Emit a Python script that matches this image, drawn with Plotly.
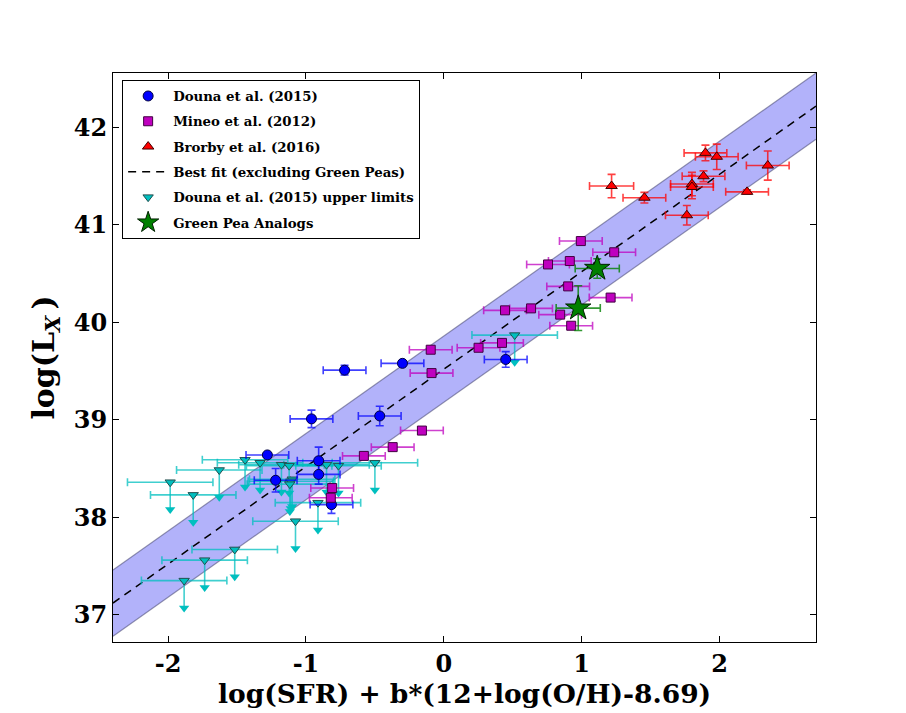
import numpy as np
import plotly.graph_objects as go

# ---------------- data ----------------
# Douna et al. (2015) detections
douna_x = [-0.72, -0.30, -0.96, -0.465, 0.449, -1.28, -0.908, -0.908, -1.22, -0.815]
douna_y = [39.51, 39.58, 39.01, 39.04, 39.62, 38.64, 38.58, 38.44, 38.38, 38.13]
douna_xerr = [0.155, 0.155, 0.155, 0.155, 0.155, 0.155, 0.155, 0.155, 0.155, 0.155]
douna_yerr = [0.05, 0.02, 0.09, 0.10, 0.08, 0.02, 0.14, 0.10, 0.12, 0.09]

# Mineo et al. (2012)
mineo_x = [0.994, 1.236, 0.756, 0.914, 0.902, 1.21, 0.444, 0.633, 0.844, 0.924,
           0.252, 0.422, -0.095, -0.089, -0.159, -0.371, -0.58, -0.81, -0.82]
mineo_y = [40.835, 40.72, 40.595, 40.63, 40.37, 40.255, 40.124, 40.144, 40.08, 39.966,
           39.74, 39.79, 39.72, 39.48, 38.89, 38.72, 38.63, 38.30, 38.20]
mineo_xerr = [0.155] * 19

# Brorby et al. (2016)
brorby_x = [1.217, 1.455, 1.898, 1.98, 1.884, 1.80, 1.80, 1.763, 2.35, 2.20]
brorby_y = [41.40, 41.28, 41.74, 41.70, 41.50, 41.42, 41.39, 41.10, 41.61, 41.34]
brorby_xerr = [0.16, 0.155, 0.155, 0.155, 0.155, 0.155, 0.155, 0.155, 0.155, 0.155]
brorby_yerr = [0.12, 0.055, 0.08, 0.13, 0.055, 0.12, 0.12, 0.10, 0.15, 0.02]

# Douna et al. (2015) upper limits
ul_x = [-1.985, -1.818, -1.629, -1.884, -1.735, -1.517, -1.076, -0.913, -1.442, -1.333,
        -1.178, -1.122, -0.851, -0.764, -1.10, -1.11, -1.117, -0.50, 0.514]
ul_y = [38.36, 38.23, 38.485, 37.35, 37.56, 37.67, 37.96, 38.15, 38.59, 38.56,
        38.54, 38.53, 38.54, 38.53, 38.39, 38.37, 38.34, 38.56, 39.87]
ul_xerr = [0.31] * 19
ul_arrow = 0.28

# Green Pea analogs
gp_x = [1.113, 0.975]
gp_y = [40.554, 40.147]
gp_xerr = [0.16, 0.16]
gp_yerr = [0.10, 0.23]

# Best fit (excluding Green Peas)
fit_slope = 1.0
fit_intercept = 39.52
fit_scatter = 0.34
x_range = [-2.4, 2.7]
y_range = [36.72, 42.56]
x_ticks = [-2, -1, 0, 1, 2]
y_ticks = [37, 38, 39, 40, 41, 42]

# ---------------- figure ----------------
FONT = "DejaVu Serif"
fig = go.Figure()

xf = np.linspace(x_range[0], x_range[1], 50)
yfit = fit_intercept + fit_slope * xf
edge = dict(color="rgba(70,70,110,0.55)", width=1.2)
fig.add_trace(go.Scatter(x=xf, y=yfit - fit_scatter, mode="lines", line=edge,
                         showlegend=False, hoverinfo="skip"))
fig.add_trace(go.Scatter(x=xf, y=yfit + fit_scatter, mode="lines", line=edge,
                         fill="tonexty", fillcolor="rgba(178,178,250,1)",
                         showlegend=False, hoverinfo="skip"))
fig.add_trace(go.Scatter(x=xf, y=yfit, mode="lines",
                         line=dict(color="black", width=1.5, dash="8px,6px"),
                         name="Best fit (excluding Green Peas)",
                         legendrank=4, legendgroup="g4"))

# upper limits: arrows
cyan = "#00BFBF"
cyan_err = "rgba(0,191,191,0.75)"
fig.add_trace(go.Scatter(x=ul_x, y=ul_y, mode="markers", marker=dict(size=1, opacity=0),
                         error_y=dict(type="data", symmetric=False, array=[0] * len(ul_y),
                                      arrayminus=[ul_arrow] * len(ul_y), color=cyan_err,
                                      thickness=1.6, width=0),
                         showlegend=False, hoverinfo="skip"))
fig.add_trace(go.Scatter(x=ul_x, y=[v - ul_arrow for v in ul_y], mode="markers",
                         marker=dict(symbol="triangle-down", size=9, color=cyan,
                                     line=dict(width=0)),
                         showlegend=False, hoverinfo="skip"))
fig.add_trace(go.Scatter(x=ul_x, y=ul_y, mode="markers",
                         name="Douna et al. (2015) upper limits",
                         marker=dict(symbol="triangle-down", size=9, color=cyan,
                                     line=dict(color="#225050", width=1)),
                         error_x=dict(type="data", array=ul_xerr, color=cyan_err,
                                      thickness=1.6, width=4),
                         legendrank=5, legendgroup="g5"))

fig.add_trace(go.Scatter(x=douna_x, y=douna_y, mode="markers", name="Douna et al. (2015)",
                         marker=dict(symbol="circle", size=10, color="#0000FF",
                                     line=dict(color="#000040", width=1)),
                         error_x=dict(type="data", array=douna_xerr, color="rgba(0,0,255,0.75)",
                                      thickness=1.6, width=4),
                         error_y=dict(type="data", array=douna_yerr, color="rgba(0,0,255,0.75)",
                                      thickness=1.6, width=4),
                         legendrank=1, legendgroup="g1"))

fig.add_trace(go.Scatter(x=mineo_x, y=mineo_y, mode="markers", name="Mineo et al. (2012)",
                         marker=dict(symbol="square", size=9, color="#BF00BF",
                                     line=dict(color="#400040", width=1)),
                         error_x=dict(type="data", array=mineo_xerr, color="rgba(191,0,191,0.75)",
                                      thickness=1.6, width=4),
                         legendrank=2, legendgroup="g2"))

fig.add_trace(go.Scatter(x=brorby_x, y=brorby_y, mode="markers", name="Brorby et al. (2016)",
                         marker=dict(symbol="triangle-up", size=10, color="#FF0000",
                                     line=dict(color="#400000", width=1)),
                         error_x=dict(type="data", array=brorby_xerr, color="rgba(255,0,0,0.75)",
                                      thickness=1.6, width=4),
                         error_y=dict(type="data", array=brorby_yerr, color="rgba(255,0,0,0.75)",
                                      thickness=1.6, width=4),
                         legendrank=3, legendgroup="g3"))

fig.add_trace(go.Scatter(x=gp_x, y=gp_y, mode="markers", name="Green Pea Analogs",
                         marker=dict(symbol="star", size=19, color="#008000",
                                     line=dict(color="#002000", width=1)),
                         error_x=dict(type="data", array=gp_xerr, color="rgba(0,128,0,0.8)",
                                      thickness=1.6, width=4),
                         error_y=dict(type="data", array=gp_yerr, color="rgba(0,128,0,0.8)",
                                      thickness=1.6, width=4),
                         legendrank=6, legendgroup="g6"))

axis_common = dict(showgrid=False, zeroline=False, showline=True, linecolor="black",
                   linewidth=1.2, mirror="allticks", ticks="inside", ticklen=6,
                   tickcolor="black", tickwidth=1,
                   tickfont=dict(family=FONT, size=24, color="black", weight="bold"))

fig.update_layout(
    width=906, height=713,
    margin=dict(l=113, r=90, t=73, b=71),
    paper_bgcolor="white", plot_bgcolor="white",
    xaxis=dict(range=x_range, tickvals=x_ticks, ticktext=[str(t) for t in x_ticks],
               title=dict(text="log(SFR) + b*(12+log(O/H)-8.69)", standoff=4,
                          font=dict(family=FONT, size=26.5, color="black", weight="bold")),
               **axis_common),
    yaxis=dict(range=y_range, tickvals=y_ticks, ticktext=[str(t) for t in y_ticks],
               title=dict(text="log(L<sub><i>X</i></sub>\u2009)", standoff=10,
                          font=dict(family=FONT, size=30, color="black", weight="bold")),
               **axis_common),
    legend=dict(x=0.013, y=0.988, xanchor="left", yanchor="top",
                bgcolor="white", bordercolor="black", borderwidth=1,
                font=dict(family=FONT, size=13.3, color="black", weight="bold"),
                traceorder="grouped", tracegroupgap=5, itemwidth=40),
    showlegend=True,
)

fig.write_html("out.html")
